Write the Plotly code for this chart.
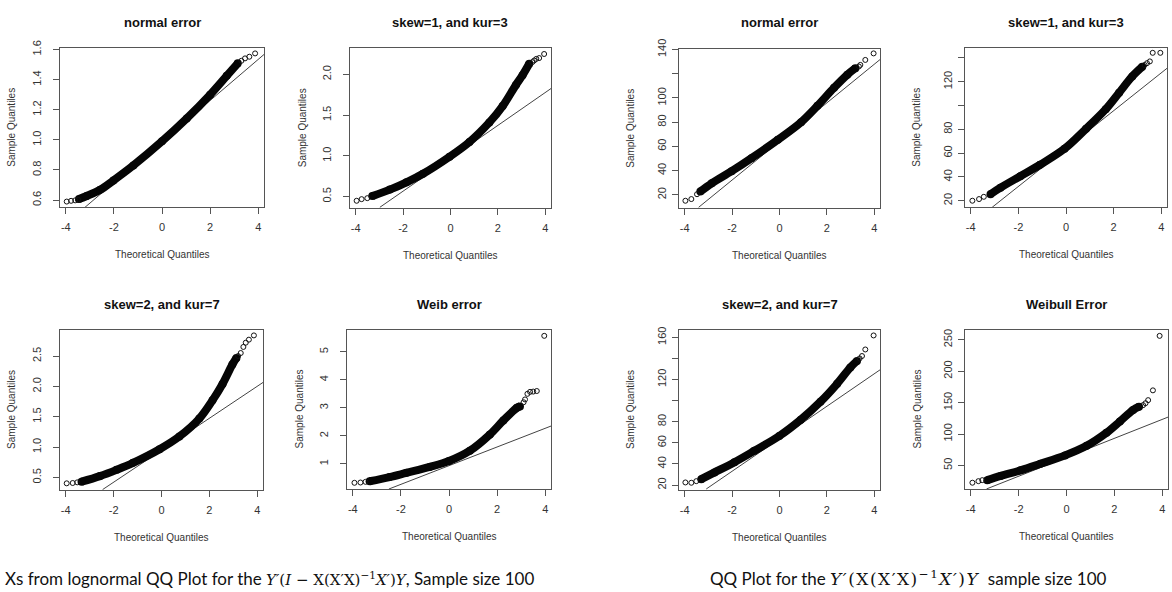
import plotly.graph_objects as go

W, H = 1172, 592

# ---------------- data ----------------
titles = ["normal error", "skew=1, and kur=3", "normal error", "skew=1, and kur=3",
          "skew=2, and kur=7", "Weib error", "skew=2, and kur=7", "Weibull Error"]

# panel 1: normal error (left block)
p1_band_x = [-3.45, -3.13, -2.57, -2.02, -1.19, 0.0, 1.03, 2.0, 2.69, 3.15]
p1_band_y = [0.607, 0.627, 0.668, 0.730, 0.830, 0.99, 1.142, 1.30, 1.425, 1.508]
p1_tail_x = [-3.96, -3.78, -3.61, -3.49, 3.3, 3.45, 3.63, 3.87]
p1_tail_y = [0.59, 0.595, 0.598, 0.602, 1.525, 1.541, 1.552, 1.574]
p1_line_x = [-3.2, 4.24]
p1_line_y = [0.552, 1.567]

# panel 2: skew=1, kur=3 (left block)
p2_band_x = [-3.3, -2.56, -1.86, -1.16, -0.04, 0.8, 1.64, 2.2, 2.76, 3.04, 3.32]
p2_band_y = [0.505, 0.585, 0.675, 0.78, 0.989, 1.17, 1.41, 1.61, 1.87, 1.99, 2.13]
p2_tail_x = [-3.96, -3.75, -3.51, 3.45, 3.53, 3.62, 3.74, 3.95]
p2_tail_y = [0.448, 0.468, 0.48, 2.15, 2.17, 2.19, 2.2, 2.25]
p2_line_x = [-2.98, 4.24]
p2_line_y = [0.368, 1.826]

# panel 3: normal error (right block)
p3_band_x = [-3.34, -2.86, -2.02, -1.18, -0.07, 0.91, 1.6, 2.3, 2.86, 3.2]
p3_band_y = [22.7, 29.5, 39.5, 50.3, 65.5, 80.0, 93.5, 108.4, 119.2, 124.6]
p3_tail_x = [-3.97, -3.72, -3.48, 3.35, 3.41, 3.62, 3.97]
p3_tail_y = [15.1, 16.5, 20.5, 126.0, 127.3, 131.4, 136.8]
p3_line_x = [-3.41, 4.24]
p3_line_y = [9.7, 131.7]

# panel 4: skew=1, kur=3 (right block)
p4_band_x = [-3.17, -2.75, -1.92, -1.09, -0.06, 0.84, 1.67, 2.23, 2.78, 3.2]
p4_band_y = [25.5, 31.0, 40.6, 50.2, 63.7, 80.4, 96.9, 110.7, 124.4, 132.5]
p4_tail_x = [-3.93, -3.65, -3.45, 3.3, 3.4, 3.52, 3.64, 3.96]
p4_tail_y = [20.0, 21.4, 23.3, 134.0, 135.5, 137.0, 144.2, 144.2]
p4_line_x = [-3.1, 4.24]
p4_line_y = [14.5, 131.2]

# panel 5: skew=2, kur=7 (left block)
p5_band_x = [-3.34, -2.57, -1.88, -1.19, -0.08, 0.75, 1.58, 2.13, 2.55, 2.96, 3.13]
p5_band_y = [0.43, 0.522, 0.625, 0.74, 0.965, 1.176, 1.47, 1.77, 2.04, 2.36, 2.47]
p5_tail_x = [-3.96, -3.71, -3.52, 3.2, 3.31, 3.42, 3.52, 3.65, 3.86]
p5_tail_y = [0.403, 0.408, 0.419, 2.5, 2.55, 2.65, 2.72, 2.77, 2.84]
p5_line_x = [-2.46, 4.24]
p5_line_y = [0.3, 2.065]

# panel 6: Weib error (left block)
p6_band_x = [-3.3, -2.47, -1.77, -0.8, 0.0, 0.87, 1.7, 2.26, 2.82, 2.95]
p6_band_y = [0.38, 0.53, 0.68, 0.89, 1.1, 1.47, 2.05, 2.55, 3.0, 3.05]
p6_tail_x = [-3.93, -3.68, -3.47, 3.1, 3.16, 3.26, 3.37, 3.5, 3.65, 3.96]
p6_tail_y = [0.324, 0.335, 0.359, 3.2, 3.3, 3.5, 3.57, 3.58, 3.6, 5.57]
p6_line_x = [-2.5, 4.24]
p6_line_y = [0.102, 2.35]

# panel 7: skew=2, kur=7 (right block)
p7_band_x = [-3.3, -2.74, -1.9, -1.06, -0.01, 0.9, 1.73, 2.43, 2.99, 3.27]
p7_band_y = [25.6, 32.0, 41.7, 52.5, 66.5, 82.0, 99.0, 116.0, 131.5, 137.7]
p7_tail_x = [-3.97, -3.72, -3.51, 3.38, 3.48, 3.62, 3.97]
p7_tail_y = [22.5, 22.2, 23.7, 140.0, 142.3, 148.5, 161.8]
p7_line_x = [-3.09, 4.24]
p7_line_y = [16.3, 129.2]

# panel 8: Weibull Error (right block)
p8_band_x = [-3.31, -2.75, -1.92, -1.09, -0.06, 0.84, 1.67, 2.23, 2.78, 3.03]
p8_band_y = [26.6, 33.4, 42.2, 52.6, 66.0, 81.2, 102.0, 120.0, 138.3, 143.5]
p8_tail_x = [-3.93, -3.68, -3.52, 3.2, 3.3, 3.41, 3.61, 3.89]
p8_tail_y = [22.5, 25.0, 26.6, 146.0, 149.0, 153.9, 169.5, 256.2]
p8_line_x = [-3.34, 4.24]
p8_line_y = [12.6, 126.9]

x_ticks = [-4, -2, 0, 2, 4]
y_ticks = [
    [0.6, 0.8, 1.0, 1.2, 1.4, 1.6],
    [0.5, 1.0, 1.5, 2.0],
    [20, 40, 60, 80, 100, 120, 140],
    [20, 40, 60, 80, 100, 120, 140],
    [0.5, 1.0, 1.5, 2.0, 2.5],
    [1, 2, 3, 4, 5],
    [20, 40, 60, 80, 100, 120, 140, 160],
    [50, 100, 150, 200, 250],
]
y_ticktext = [
    ["0.6", "0.8", "1.0", "1.2", "1.4", "1.6"],
    ["0.5", "1.0", "1.5", "2.0"],
    ["20", "40", "60", "80", "100", "", "140"],
    ["20", "40", "60", "80", "", "120", ""],
    ["0.5", "1.0", "1.5", "2.0", "2.5"],
    ["1", "2", "3", "4", "5"],
    ["20", "40", "60", "80", "", "120", "", "160"],
    ["50", "100", "150", "200", "250"],
]
y_ranges = [[0.552, 1.608], [0.356, 2.32], [8.9, 140.2], [14.5, 148.0],
            [0.294, 2.93], [0.105, 5.78], [15.4, 167.0], [12.6, 265.6]]
x_range = [-4.24, 4.24]

band_x = [p1_band_x, p2_band_x, p3_band_x, p4_band_x, p5_band_x, p6_band_x, p7_band_x, p8_band_x]
band_y = [p1_band_y, p2_band_y, p3_band_y, p4_band_y, p5_band_y, p6_band_y, p7_band_y, p8_band_y]
tail_x = [p1_tail_x, p2_tail_x, p3_tail_x, p4_tail_x, p5_tail_x, p6_tail_x, p7_tail_x, p8_tail_x]
tail_y = [p1_tail_y, p2_tail_y, p3_tail_y, p4_tail_y, p5_tail_y, p6_tail_y, p7_tail_y, p8_tail_y]
line_x = [p1_line_x, p2_line_x, p3_line_x, p4_line_x, p5_line_x, p6_line_x, p7_line_x, p8_line_x]
line_y = [p1_line_y, p2_line_y, p3_line_y, p4_line_y, p5_line_y, p6_line_y, p7_line_y, p8_line_y]

MATH_L = "font-family:DejaVu Serif;font-size:15px"
MATH_R = "font-family:DejaVu Serif;font-size:17px;letter-spacing:1.5px"
caption_left = ('Xs from lognormal QQ Plot for the '
                f'<span style="{MATH_L}"><i>Y′</i>(<i>I</i> − X(X′X)<sup>−1</sup><i>X′</i>)<i>Y</i></span>'
                ', Sample size 100')
caption_right = ('QQ Plot for the '
                 f'<span style="{MATH_R}"><i>Y′</i>(X(X′X)<sup>−1</sup><i>X′</i>)<i>Y</i></span>'
                 '  sample size 100')

# ---------------- layout (pixel boxes of each plot region) ----------------
boxes = [(60, 264, 38, 200), (350, 551, 38, 201), (679, 880, 39, 201), (965, 1167, 38, 200),
         (60, 263, 325, 488), (347, 551, 325, 487), (679, 880, 325, 488), (965, 1168, 325, 487)]
ystandoff = [8, 8, 2, 2, 8, 8, 2, 2]

FONT = "Liberation Sans, Arial, sans-serif"
TXT = "#333333"
AX = "#555555"

fig = go.Figure()
annotations = []
layout_axes = {}

for i in range(8):
    n = "" if i == 0 else str(i + 1)
    xa, ya = "x" + n, "y" + n
    L, R, T, B = boxes[i]

    fig.add_trace(go.Scatter(x=line_x[i], y=line_y[i], xaxis=xa, yaxis=ya, mode="lines",
                             line=dict(color="#444444", width=1), hoverinfo="skip", showlegend=False))
    fig.add_trace(go.Scatter(x=band_x[i], y=band_y[i], xaxis=xa, yaxis=ya, mode="lines+markers",
                             line=dict(color="#050505", width=8, shape="spline", smoothing=1.0),
                             marker=dict(size=8, color="#050505", line=dict(width=0)),
                             showlegend=False))
    fig.add_trace(go.Scatter(x=tail_x[i], y=tail_y[i], xaxis=xa, yaxis=ya, mode="markers",
                             marker=dict(symbol="circle-open", size=5, color="#111111",
                                         line=dict(width=1, color="#111111")),
                             cliponaxis=False, showlegend=False))

    common = dict(showgrid=False, zeroline=False, showline=True, linecolor=AX, linewidth=1,
                  mirror=True, ticks="outside", ticklen=6, tickcolor=AX, tickwidth=1,
                  tickfont=dict(family=FONT, size=11, color=TXT), fixedrange=True)
    layout_axes["xaxis" + n] = dict(common, domain=[L / W, R / W], range=x_range,
                                    tickmode="array", tickvals=x_ticks,
                                    ticktext=[str(v) for v in x_ticks],
                                    anchor=ya, ticklabelstandoff=4)
    layout_axes["yaxis" + n] = dict(common, domain=[1 - B / H, 1 - T / H], range=y_ranges[i],
                                    tickmode="array", tickvals=y_ticks[i], ticktext=y_ticktext[i],
                                    tickangle=-90, anchor=xa, ticklabelstandoff=ystandoff[i])

    cx = (L + R) / 2
    title_y = 12 if i < 4 else 299
    annotations.append(dict(text="<b>" + titles[i] + "</b>", x=cx / W, y=1 - title_y / H,
                            xref="paper", yref="paper", showarrow=False, xanchor="center",
                            yanchor="middle", font=dict(family=FONT, size=13, color="#111111")))
    annotations.append(dict(text="Theoretical Quantiles", x=cx / W, y=1 - (B + 48) / H,
                            xref="paper", yref="paper", showarrow=False, xanchor="center",
                            yanchor="middle", font=dict(family=FONT, size=10, color=TXT)))
    annotations.append(dict(text="Sample Quantiles", x=(L - 48) / W, y=1 - ((T + B) / 2) / H,
                            xref="paper", yref="paper", showarrow=False, xanchor="center",
                            yanchor="middle", textangle=-90,
                            font=dict(family=FONT, size=10, color=TXT)))

annotations.append(dict(text=caption_left, x=3 / W, y=1 - 578 / H, xref="paper", yref="paper",
                        showarrow=False, xanchor="left", yanchor="middle",
                        font=dict(family="Lato, Noto Sans, sans-serif", size=17, color="#111111")))
annotations.append(dict(text=caption_right, x=708 / W, y=1 - 578 / H, xref="paper", yref="paper",
                        showarrow=False, xanchor="left", yanchor="middle",
                        font=dict(family="Lato, Noto Sans, sans-serif", size=17, color="#111111")))

fig.update_layout(width=W, height=H, margin=dict(l=0, r=0, t=0, b=0),
                  paper_bgcolor="white", plot_bgcolor="white",
                  annotations=annotations, showlegend=False, **layout_axes)

fig.write_html("out.html", config={"displayModeBar": False},
               post_script="document.body.style.margin='0';")
